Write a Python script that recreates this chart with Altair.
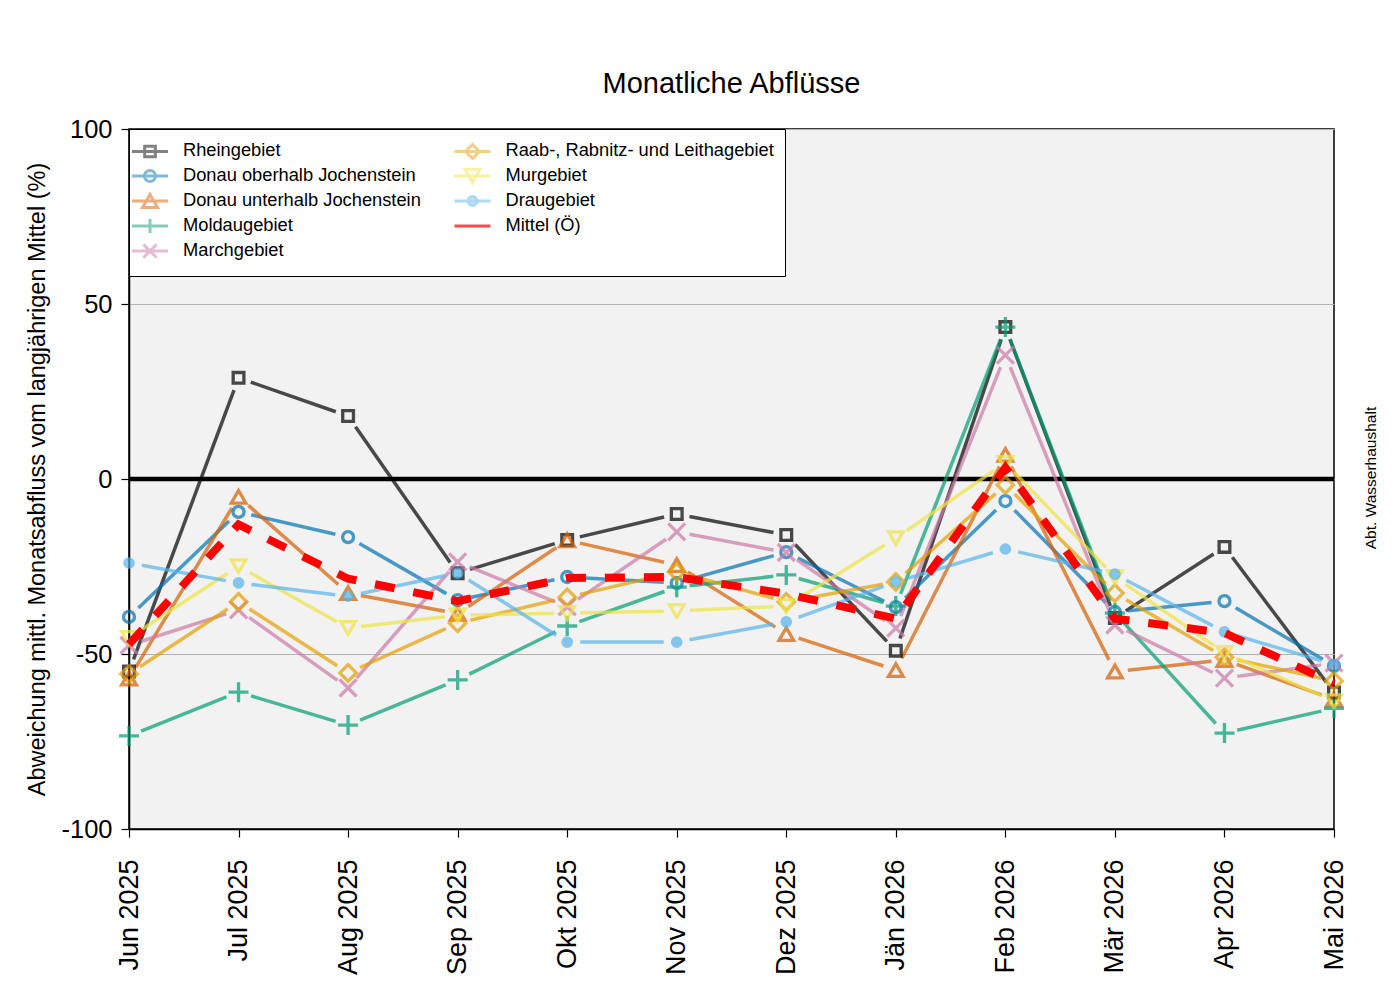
import math
import altair as alt
import pandas as pd

# ---- data: deviation of monthly discharge from the long-term mean (%) ----
months = ["Jun 2025", "Jul 2025", "Aug 2025", "Sep 2025", "Okt 2025", "Nov 2025",
          "Dez 2025", "Jän 2026", "Feb 2026", "Mär 2026", "Apr 2026", "Mai 2026"]

rhein     = [-55.0, 28.9, 18.0, -26.9, -17.4, -10.0, -16.0, -49.1, 43.4, -39.7, -19.4, -61.0]
donau_ob  = [-39.4, -9.4, -16.6, -34.6, -28.0, -29.7, -20.9, -36.6, -6.3, -38.0, -34.9, -53.4]
donau_unt = [-57.0, -5.1, -32.6, -38.5, -17.5, -24.6, -44.3, -54.6, 6.9, -55.0, -51.7, -63.0]
moldau    = [-73.4, -60.9, -70.3, -57.4, -42.0, -30.9, -27.4, -36.3, 43.4, -38.3, -72.6, -65.5]
march     = [-47.5, -37.4, -59.7, -23.7, -36.5, -15.1, -21.0, -42.6, 35.4, -41.7, -56.9, -52.6]
raab      = [-55.7, -35.1, -55.4, -41.2, -33.8, -26.5, -35.1, -29.4, -1.7, -32.6, -50.9, -57.7]
mur       = [-45.4, -24.9, -42.6, -38.9, -38.3, -37.7, -36.3, -16.9, 4.6, -28.0, -49.7, -63.5]
drau      = [-24.0, -29.7, -33.5, -26.9, -46.6, -46.6, -40.8, -29.4, -20.0, -27.2, -43.7, -53.0]
mittel    = [-47.2, -13.0, -28.5, -34.9, -28.3, -28.0, -32.8, -39.9, 3.3, -39.9, -44.0, -58.4]

series_names = ["Rheingebiet", "Donau oberhalb Jochenstein", "Donau unterhalb Jochenstein",
                "Moldaugebiet", "Marchgebiet", "Raab-, Rabnitz- und Leithagebiet",
                "Murgebiet", "Draugebiet"]
series_values = [rhein, donau_ob, donau_unt, moldau, march, raab, mur, drau]
mittel_name = "Mittel (Ö)"

# ---- styling ----
FONT = "Liberation Sans"
PLOT_W, PLOT_H = 1205, 700
Y_MIN, Y_MAX = -100, 100
GAP = 13  # px left free around each marker

colors = ["#000000", "#0072B2", "#D55E00", "#009E73", "#CC79A7",
          "#E69F00", "#F0E442", "#56B4E9"]
PLUS = "M-1,0H1M0,-1V1"
XMARK = "M-1,-1L1,1M-1,1L1,-1"
shapes = ["square", "circle", "triangle-up", PLUS, XMARK, "diamond", "triangle-down", "circle"]
sizes = [115, 121, 215, 400, 290, 270, 215, 70]
fills = ["transparent"] * 7 + ["#56B4E9"]


def blend(hex_color, alpha=0.7):
    h = hex_color.lstrip("#")
    rgb = [int(h[k:k + 2], 16) for k in (0, 2, 4)]
    out = [round(alpha * c + (1 - alpha) * 255) for c in rgb]
    return "#" + "".join(f"{c:02x}" for c in out)


def ring(r, n=24):
    pts = [(r * math.cos(2 * math.pi * k / n), r * math.sin(2 * math.pi * k / n)) for k in range(n)]
    return "M" + "L".join(f"{x:.3f},{y:.3f}" for x, y in pts) + "Z"


# legend glyphs: a line with the marker on it, in units of 9.5 px (symbolSize 361);
# the leading moves give every entry the same height
EXTENT = "M0,-0.737M0,0.737"
LINE = "M-1.895,0H1.895"
glyph = {
    "Rheingebiet": "M-0.563,-0.563H0.563V0.563H-0.563Z",
    "Donau oberhalb Jochenstein": ring(0.58),
    "Donau unterhalb Jochenstein": "M0,-0.684L-0.79,0.684L0.79,0.684Z",
    "Moldaugebiet": "M-0.737,0H0.737M0,-0.737V0.737",
    "Marchgebiet": "M-0.7,-0.7L0.7,0.7M-0.7,0.7L0.7,-0.7",
    "Raab-, Rabnitz- und Leithagebiet": "M-0.737,0L0,-0.737L0.737,0L0,0.737Z",
    "Murgebiet": "M0,0.684L-0.79,-0.684L0.79,-0.684Z",
    "Draugebiet": ring(0.46),
    mittel_name: "",
}
legend_order = series_names + [mittel_name]
color_of = dict(zip(series_names, colors))
legend_colors = [blend(color_of[n]) if n in color_of else "#FF0000" for n in legend_order]
legend_fills = [blend("#56B4E9") if n == "Draugebiet" else "transparent" for n in legend_order]
legend_paths = [EXTENT + LINE + glyph[n] for n in legend_order]

# ---- tables ----
pts = pd.DataFrame([
    {"series": n, "idx": i, "value": v, "msize": sizes[k]}
    for k, (n, vals) in enumerate(zip(series_names, series_values))
    for i, v in enumerate(vals)
])
mean_df = pd.DataFrame({"idx": list(range(len(months))), "value": mittel})

# line pieces between neighbouring markers, shortened so they stop short of the symbols
px_x = PLOT_W / (len(months) - 1)
px_y = PLOT_H / (Y_MAX - Y_MIN)
seg_rows = []
for n, vals in zip(series_names, series_values):
    for i in range(len(vals) - 1):
        dv = vals[i + 1] - vals[i]
        length = math.hypot(px_x, dv * px_y)
        if length <= 2 * GAP:
            continue
        t = GAP / length
        seg_rows.append({"series": n, "x": i + t, "y": vals[i] + t * dv,
                         "x2": i + 1 - t, "y2": vals[i + 1] - t * dv})
seg_df = pd.DataFrame(seg_rows)

month_expr = "[" + ",".join(f"'{m}'" for m in months) + "][datum.value]"
Y_TITLE = "Abweichung mittl. Monatsabfluss vom langjährigen Mittel (%)"

x_scale = alt.Scale(domain=[0, len(months) - 1], nice=False, zero=False)
y_scale = alt.Scale(domain=[Y_MIN, Y_MAX], nice=False, zero=False)

x_axis = alt.Axis(values=list(range(len(months))), labelExpr=month_expr, labelAngle=270,
                  labelAlign="right", labelBaseline="middle", labelFontSize=27,
                  labelPadding=22, tickSize=8, grid=False, labelFlush=False,
                  labelOverlap=False, title=None)
y_axis = alt.Axis(values=[-100, -50, 0, 50, 100],
                  labelExpr="datum.value < 0 ? '-' + abs(datum.value) : '' + datum.value",
                  labelFontSize=25.5, labelPadding=9, tickSize=8, grid=True,
                  gridColor="#b3b3b3", gridWidth=1, titleFontSize=23.5,
                  titleFontWeight="normal", titlePadding=11, title=Y_TITLE)

zero_line = alt.Chart(pd.DataFrame({"y": [0]})).mark_rule(
    color="black", strokeWidth=4.5
).encode(y=alt.Y("y:Q", scale=y_scale, axis=y_axis))

lines = alt.Chart(seg_df).mark_rule(strokeWidth=3.5, opacity=0.7, strokeCap="butt").encode(
    x=alt.X("x:Q", scale=x_scale, axis=x_axis),
    x2="x2:Q",
    y=alt.Y("y:Q", scale=y_scale, axis=y_axis),
    y2="y2:Q",
    color=alt.Color("series:N", scale=alt.Scale(domain=series_names, range=colors), legend=None),
)

markers = alt.Chart(pts).mark_point(filled=False, strokeWidth=3.3, opacity=0.7).encode(
    x=alt.X("idx:Q", scale=x_scale, axis=x_axis),
    y=alt.Y("value:Q", scale=y_scale, axis=y_axis),
    color=alt.Color("series:N", scale=alt.Scale(domain=series_names, range=colors), legend=None),
    fill=alt.Fill("series:N", scale=alt.Scale(domain=series_names, range=fills), legend=None),
    shape=alt.Shape("series:N", scale=alt.Scale(domain=series_names, range=shapes), legend=None),
    size=alt.Size("msize:Q", scale=None, legend=None),
)

mean_line = alt.Chart(mean_df).mark_line(
    color="#FF0000", strokeWidth=8, strokeDash=[20, 19], strokeCap="butt"
).encode(
    x=alt.X("idx:Q", scale=x_scale, axis=x_axis),
    y=alt.Y("value:Q", scale=y_scale, axis=y_axis),
)

legend = alt.Legend(
    title=None, orient="top-left", offset=0, padding=11, columns=2, columnPadding=26.5,
    rowPadding=-12, gridAlign="each", labelFontSize=18.3, labelFont=FONT, labelLimit=500,
    labelOffset=22, labelColor="black", symbolSize=361, symbolStrokeWidth=3,
    symbolOffset=-1, strokeColor="black", fillColor="white",
)
legend_df = pd.DataFrame({"series": legend_order})
legend_layer = alt.Chart(legend_df).transform_filter("false").mark_point(
    filled=False, strokeWidth=3
).encode(
    color=alt.Color("series:N", scale=alt.Scale(domain=legend_order, range=legend_colors), legend=legend),
    fill=alt.Fill("series:N", scale=alt.Scale(domain=legend_order, range=legend_fills), legend=legend),
    shape=alt.Shape("series:N", scale=alt.Scale(domain=legend_order, range=legend_paths), legend=legend),
)

credit = alt.Chart(pd.DataFrame({"t": ["Abt. Wasserhaushalt"]})).mark_text(
    angle=270, align="center", baseline="middle", fontSize=15.5, font=FONT, color="black"
).encode(text="t:N", x=alt.value(PLOT_W + 37), y=alt.value(PLOT_H / 2 - 1))

chart = alt.layer(zero_line, lines, markers, mean_line, legend_layer, credit).resolve_scale(
    color="independent", fill="independent", shape="independent"
).properties(
    width=PLOT_W, height=PLOT_H,
    title=alt.Title("Monatliche Abflüsse", fontSize=29, fontWeight="normal", font=FONT,
                    color="black", anchor="middle", frame="group", offset=18),
    autosize=alt.AutoSizeParams(type="none"),
    padding={"left": 129, "top": 129, "right": 66, "bottom": 160},
    view=alt.ViewBackground(fill="#f2f2f2", stroke="black", strokeWidth=1.5),
).configure(
    font=FONT, background="white",
).configure_view(
    fill="#f2f2f2", stroke="black", strokeWidth=1.5,
).configure_axis(
    labelFont=FONT, titleFont=FONT, labelColor="black", titleColor="black",
    domainColor="black", tickColor="black", domainWidth=1.5, tickWidth=1.2,
)

chart.save("out.html", embed_options={"renderer": "svg", "actions": False})
